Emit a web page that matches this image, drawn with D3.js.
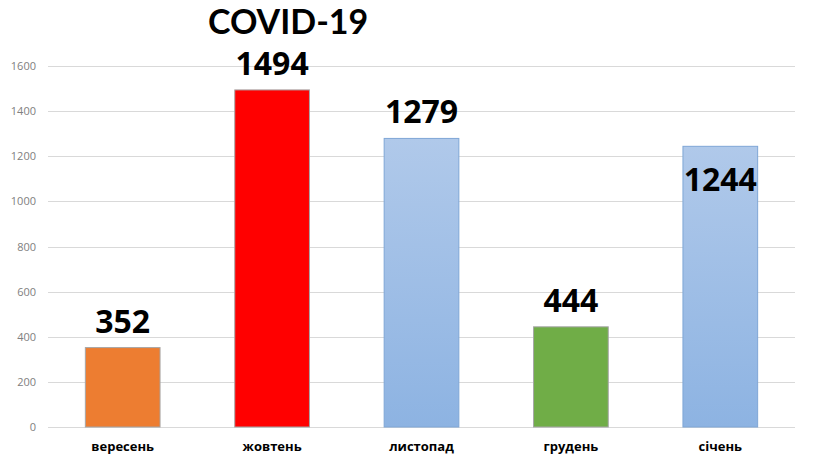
<!DOCTYPE html>
<html><head><meta charset="utf-8">
<script src="https://cdn.jsdelivr.net/npm/d3@7"></script>
<style>body{margin:0;background:#fff}svg{display:block}</style>
</head><body>
<svg id="c" width="828" height="475"></svg>
<script>
const categories = ["вересень","жовтень","листопад","грудень","січень"];
const values = [352,1494,1279,444,1244];
const barColors = ["#ED7D31","#FF0000","blue","#70AD47","blue"];
const yTicks = [0,200,400,600,800,1000,1200,1400,1600];
const title = "COVID-19";

const svg = d3.select("#c");
const m = {left:48, right:795, top:66, bottom:427};
const x = d3.scaleBand().domain(categories).range([m.left, m.right]).paddingInner(0.5).paddingOuter(0.25);
const y = d3.scaleLinear().domain([0,1600]).range([m.bottom, m.top]);

const defs = svg.append("defs");
const g = defs.append("linearGradient").attr("id","bl").attr("x1",0).attr("y1",0).attr("x2",0).attr("y2",1);
g.append("stop").attr("offset","0%").attr("stop-color","#B0C9EA");
g.append("stop").attr("offset","100%").attr("stop-color","#8DB3E2");

// grid
svg.append("g").selectAll("line").data(yTicks).join("line")
  .attr("x1",m.left).attr("x2",m.right)
  .attr("y1",d=>Math.round(y(d))+0.5).attr("y2",d=>Math.round(y(d))+0.5)
  .attr("stroke","#D9D9D9").attr("stroke-width",1);

// y axis labels
const ya = svg.append("g").attr("transform",`translate(${m.left-12},0)`)
  .call(d3.axisLeft(y).tickValues(yTicks).tickFormat(d3.format("d")).tickSize(0).tickPadding(0));
ya.select(".domain").remove();
ya.selectAll("text").attr("fill","#808080").style("font-family","Open Sans, sans-serif").style("font-size","11px");

// bars
svg.append("g").selectAll("rect").data(values).join("rect")
  .attr("x",(d,i)=>x(categories[i]))
  .attr("width",x.bandwidth())
  .attr("y",d=>y(d))
  .attr("height",d=>y(0)-y(d))
  .attr("fill",(d,i)=>barColors[i]==="blue"?"url(#bl)":barColors[i])
  .attr("stroke",(d,i)=>barColors[i]==="blue"?"#7FA6D6":"#A6A6A6")
  .attr("stroke-width",1);

// x axis labels
const xa = svg.append("g").attr("transform",`translate(0,${m.bottom})`)
  .call(d3.axisBottom(x).tickSize(0).tickPadding(15));
xa.select(".domain").remove();
xa.selectAll("text").attr("fill","#000").style("font-family","Open Sans, sans-serif")
  .style("font-size","13px").style("font-weight","bold");

// value labels
svg.append("g").selectAll("text").data(values).join("text")
  .attr("x",(d,i)=>x(categories[i])+x.bandwidth()/2)
  .attr("y",(d,i)=> i===categories.length-1 ? y(d)+45 : y(d)-15)
  .attr("text-anchor","middle")
  .style("font-family","Open Sans, sans-serif").style("font-size","32px").style("font-weight","bold")
  .attr("fill","#000").text(d=>d);

// title
svg.append("text").attr("x",x(categories[1])+x.bandwidth()/2+16).attr("y",34)
  .attr("text-anchor","middle")
  .style("font-family","Lato, Open Sans, sans-serif").style("font-size","34px").style("font-weight","bold")
  .attr("fill","#000").text(title);
</script>
</body></html>
